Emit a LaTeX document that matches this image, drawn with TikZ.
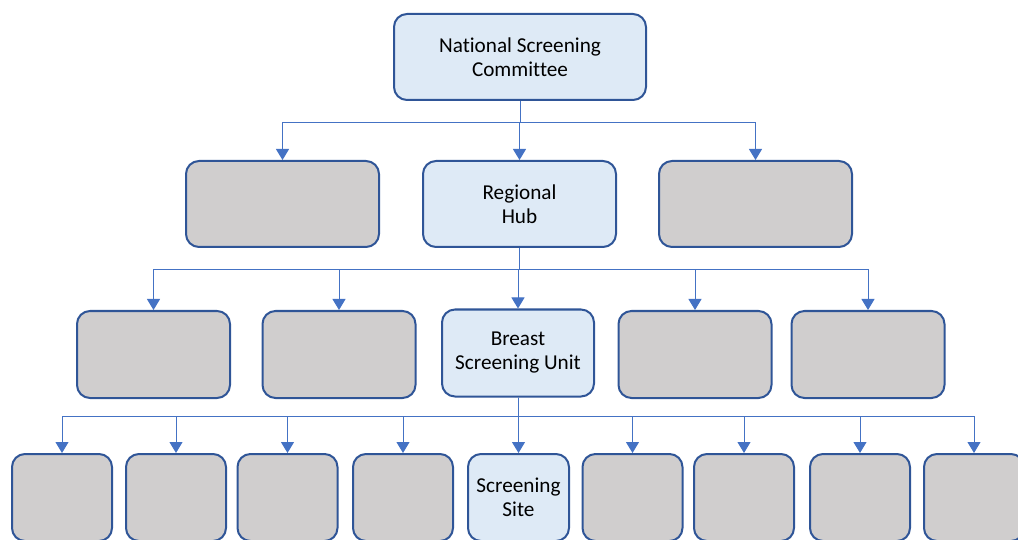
\documentclass[tikz,border=0pt]{standalone}
\usepackage{fontspec}
\setmainfont[Ligatures=CommonOff]{Carlito}
\usetikzlibrary{arrows.meta}
\definecolor{boxline}{HTML}{2F5597}
\definecolor{bluefill}{HTML}{DEEAF6}
\definecolor{grayfill}{HTML}{D0CECE}
\definecolor{connline}{HTML}{4472C4}
\tikzset{
  unit/.style={draw=boxline, line width=2pt, rounded corners=13pt, align=center,
    inner sep=0pt, font=\fontsize{21.2}{24}\selectfont},
  named/.style={unit, fill=bluefill},
  blank/.style={unit, fill=grayfill},
  conn/.style={draw=connline, line width=1pt, -{Triangle[length=11pt,width=13pt]}},
}
\begin{document}
\begin{tikzpicture}[x=1pt,y=-1pt]
\useasboundingbox (0,0) rectangle (1018,540);
\begin{scope}
\clip (0,0) rectangle (1018,540);
% level 1
\node[named, minimum width=252pt, minimum height=86pt] (nsc) at (520,57) {National Screening\\Committee};
% level 2
\node[blank, minimum width=193pt, minimum height=86pt] (l2a) at (282.5,204) {};
\node[named, minimum width=193pt, minimum height=86pt] (hub) at (519.5,204) {Regional\\Hub};
\node[blank, minimum width=193pt, minimum height=86pt] (l2c) at (755.5,204) {};
% level 3
\foreach \n/\x in {l3a/153.5, l3b/339, l3d/695, l3e/868}
  \node[blank, minimum width=153pt, minimum height=87pt] (\n) at (\x,354.5) {};
\node[named, minimum width=152pt, minimum height=87pt] (bsu) at (518,353) {Breast\\Screening Unit};
% level 4
\foreach \n/\x in {l4a/62, l4b/176, l4c/287.5, l4d/403, l4f/632.5, l4g/744, l4h/860, l4i/974}
  \node[blank, minimum width=100pt, minimum height=87pt] (\n) at (\x,497.5) {};
\node[named, minimum width=101pt, minimum height=87pt] (site) at (518.5,497.5) {Screening\\Site};
\end{scope}
% bus levels
\coordinate (b1) at (0,123);
\coordinate (b2) at (0,270);
\coordinate (b3) at (0,416);
% connectors
\foreach \c in {l2a, hub, l2c}
  \draw[conn] (nsc.south) -- (nsc.south |- b1) -| (\c.north);
\foreach \c in {l3a, l3b, bsu, l3d, l3e}
  \draw[conn] (hub.south) -- (hub.south |- b2) -| (\c.north);
\foreach \c in {l4a, l4b, l4c, l4d, site, l4f, l4g, l4h, l4i}
  \draw[conn] (bsu.south) -- (bsu.south |- b3) -| (\c.north);
\end{tikzpicture}
\end{document}
